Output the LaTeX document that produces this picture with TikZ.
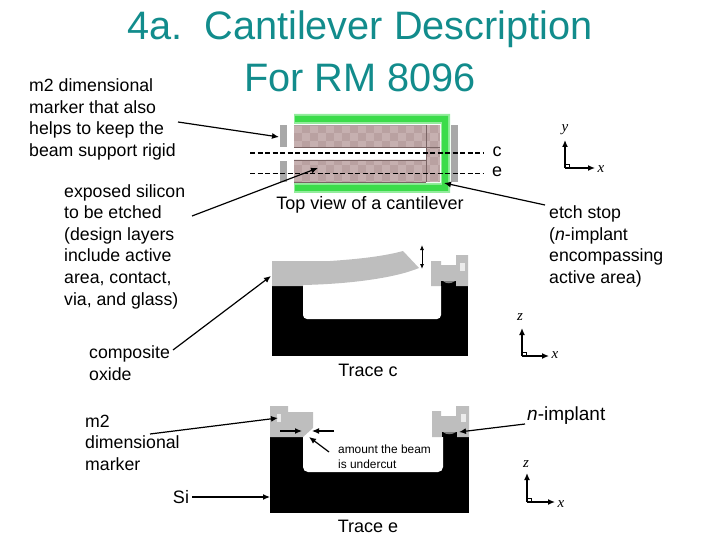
\documentclass[tikz,border=0pt]{standalone}
\usepackage{fontspec}
\setmainfont{Liberation Sans}
\newfontfamily\tms{Liberation Serif}
\definecolor{titlec}{HTML}{128C8C}
\definecolor{pinka}{HTML}{B9A1A1}
\definecolor{pinkb}{HTML}{C6B0B0}
\definecolor{pinke}{HTML}{7A6464}
\definecolor{greenb}{HTML}{3BDC4A}
\definecolor{greyb}{HTML}{A8A8A8}
\definecolor{greys}{HTML}{BEBEBE}
\usetikzlibrary{arrows.meta}
\tikzset{
  lbl/.style={anchor=north west,inner sep=0pt,align=left,font=\fontsize{17.7}{21.6}\selectfont},
  ttl/.style={anchor=center,inner sep=0pt,text=titlec,font=\fontsize{39.7}{42}\selectfont},
  captxt/.style={anchor=center,inner sep=0pt,font=\fontsize{18}{20}\selectfont},
  smalltxt/.style={anchor=north west,inner sep=0pt,align=left,font=\fontsize{11.9}{15}\selectfont},
  axl/.style={anchor=center,inner sep=0pt,font=\fontsize{15}{18}\tms\itshape},
  arr/.style={-{Latex[length=7pt,width=6pt]},line width=1.2pt},
  axarr/.style={-{Latex[length=7pt,width=6pt]},line width=1.3pt},
  steel/.style={fill=greys,draw=none},
}
\begin{document}
\begin{tikzpicture}[x=1pt,y=-1pt]
\useasboundingbox (0,0) rectangle (720,540);
% top view
\fill[greyb] (280,125) rectangle (287,147);
\fill[greyb] (280,161) rectangle (287,182);
\fill[greyb] (451,125) rectangle (458,182);
\fill[greenb!55!white] (294,114) -- (450,114) -- (450,193) -- (294,193) -- (294,183) -- (441,183) -- (441,124) -- (294,124) -- cycle;
\fill[greenb] (295,116) -- (448,116) -- (448,191) -- (295,191) -- (295,185) -- (442,185) -- (442,122) -- (295,122) -- cycle;
\begin{scope}
  \clip (294,125) -- (440,125) -- (440,182) -- (294,182) -- (294,160) -- (426,160) -- (426,147) -- (294,147) -- cycle;
  \fill[pinka] (294,125) rectangle (440,182);
  \foreach \i in {0,...,18}{\foreach \j in {0,...,7}{
    \pgfmathparse{int(mod(\i+\j,2))}
    \ifnum\pgfmathresult=0
      \fill[pinkb] ({294+8*\i},{125+8*\j}) rectangle ++(8,8);
    \fi}}
\end{scope}
\draw[pinke,line width=.5pt] (294,147) -- (426,147) -- (426,160) -- (294,160);
\draw[pinke,line width=.5pt] (294,182) -- (426,182) (426,125) -- (426,182) (426,147) -- (440,147);
\draw[pinke!60,line width=.5pt] (294,125) -- (426,125);
\coordinate (d1a) at (250,153); \coordinate (d1b) at (483,153);
\coordinate (d2a) at (250,173); \coordinate (d2b) at (483,173);
\draw[line width=1.2pt,dash pattern=on 5pt off 2.5pt] (d1a) -- (d1b);
\draw[line width=.7pt,dash pattern=on 5pt off 2.5pt] (d2a) -- (d2b);
% trace c
\fill[black] (272,286) rectangle (468,356);
\fill[white,rounded corners=4pt] (303,280) -- (303,319) -- (441,319) -- (441,280) -- cycle;
\fill[steel] (272,261) -- (330,261) .. controls (360,259) and (385,256) .. (403,251) -- (419,268) .. controls (395,278) and (350,284) .. (303,285) -- (303,286) -- (272,286) -- cycle;
\fill[white] (441,262) rectangle (456,281);
\fill[steel] (431,261) -- (441,261) -- (441,265) -- (456,265) -- (456,255) -- (468,255) -- (468,286) -- (456,286) -- (456,281) -- (441,281) -- (441,286) -- (431,286) -- cycle;
\fill[black] (441,281) rectangle (456,286);
\fill[gray] (443,281) .. controls (446,284) and (451,284) .. (455,281) -- cycle;
\fill[white!85!gray] (460,263) rectangle (465,271);
\coordinate (dbl1) at (422,245); \coordinate (dbl2) at (422,269);
\draw[{Latex[length=5pt,width=4pt]}-{Latex[length=5pt,width=4pt]},line width=.8pt] (dbl1) -- (dbl2);
% trace e
\fill[black] (270,437) rectangle (469,513);
\fill[white,rounded corners=5pt] (303,430) -- (303,472) -- (443,472) -- (443,430) -- cycle;
\fill[steel] (270,406) -- (288,406) -- (288,412) -- (313,412) -- (313,428) -- (303,437) -- (270,437) -- cycle;
\fill[steel] (432,411) -- (441,411) -- (441,416) -- (456,416) -- (456,406) -- (469,406) -- (469,437) -- (457,437) -- (457,432) -- (442,432) -- (442,437) -- (432,437) -- cycle;
\fill[black] (442,432) rectangle (457,437);
\fill[gray] (443,432) .. controls (446,435) and (452,435) .. (456,432) -- cycle;
\fill[white!85!gray] (277,414) rectangle (281,422);
\fill[white!85!gray] (461,414) rectangle (466,422);
% titles
\node[ttl] (t1) at (360,29) {4a.\ \ Cantilever Description};
\node[ttl] (t2) at (360,78) {For RM 8096};
% labels
\node[lbl] (m2top) at (29,78.5) {m2 dimensional\\marker that also\\helps to keep the\\beam support rigid};
\node[lbl] (expo) at (64,184) {exposed silicon\\to be etched\\(design layers\\include active\\area, contact,\\via, and glass)};
\node[lbl] (etch) at (549,205.5) {etch stop\\(\textit{n}-implant\\encompassing\\active area)};
\node[lbl] (comp) at (89,345.5) {composite\\oxide};
\node[lbl] (m2b) at (85,414.5) {m2\\dimensional\\marker};
\node[captxt] (si) at (181,497) {Si};
\node[captxt] (topv) at (370,205) {Top view of a cantilever};
\node[captxt] (trc) at (368,370) {Trace c};
\node[captxt] (tre) at (368,526) {Trace e};
\node[captxt,anchor=west,font=\fontsize{19}{20}\selectfont] (nimp) at (527,416) {\textit{n}-implant};
\node[captxt] (lc) at (497,152) {c};
\node[captxt] (le) at (497,172) {e};
\node[smalltxt] (under) at (338,444.5) {amount the beam\\is undercut};
% connectors
\coordinate (a1s) at (178,122); \coordinate (a1e) at (279,137);
\draw[arr] (a1s) -- (a1e);
\coordinate (a2s) at (192,216); \coordinate (a2e) at (318,168);
\draw[arr] (a2s) -- (a2e);
\coordinate (a3s) at (545,205); \coordinate (a3e) at (444,183);
\draw[arr] (a3s) -- (a3e);
\coordinate (a4s) at (173,350); \coordinate (a4e) at (271,276);
\draw[arr] (a4s) -- (a4e);
\coordinate (a5s) at (150,434); \coordinate (a5e) at (278,418);
\draw[arr] (a5s) -- (a5e);
\coordinate (a6s) at (192,497); \coordinate (a6e) at (270,497);
\draw[arr] (a6s) -- (a6e);
\coordinate (a7s) at (525,424); \coordinate (a7e) at (459,432);
\draw[arr] (a7s) -- (a7e);
\coordinate (u1s) at (280,431); \coordinate (u1e) at (302,431);
\draw[arr] (u1s) -- (u1e);
\coordinate (u2s) at (334,431); \coordinate (u2e) at (312,431);
\draw[arr] (u2s) -- (u2e);
\coordinate (u3s) at (329,452); \coordinate (u3e) at (309,437);
\draw[arr] (u3s) -- (u3e);
% axes
\coordinate (o1) at (565,168); \coordinate (o1y) at (565,140); \coordinate (o1x) at (595,168);
\draw[axarr] (o1) -- (o1y); \draw[axarr] (o1) -- (o1x);
\draw[line width=.5pt] (o1) rectangle ++(4,-4);
\node[axl] (ly1) at (565,130) {y}; \node[axl] (lx1) at (601,169) {x};
\coordinate (o2) at (522,356); \coordinate (o2y) at (522,328); \coordinate (o2x) at (549,356);
\draw[axarr] (o2) -- (o2y); \draw[axarr] (o2) -- (o2x);
\draw[line width=.5pt] (o2) rectangle ++(4,-4);
\node[axl] (lz2) at (520,317) {z}; \node[axl] (lx2) at (555,355) {x};
\coordinate (o3) at (527,502); \coordinate (o3y) at (527,473); \coordinate (o3x) at (555,502);
\draw[axarr] (o3) -- (o3y); \draw[axarr] (o3) -- (o3x);
\draw[line width=.5pt] (o3) rectangle ++(4,-4);
\node[axl] (lz3) at (526,464) {z}; \node[axl] (lx3) at (561,504) {x};
\end{tikzpicture}
\end{document}
